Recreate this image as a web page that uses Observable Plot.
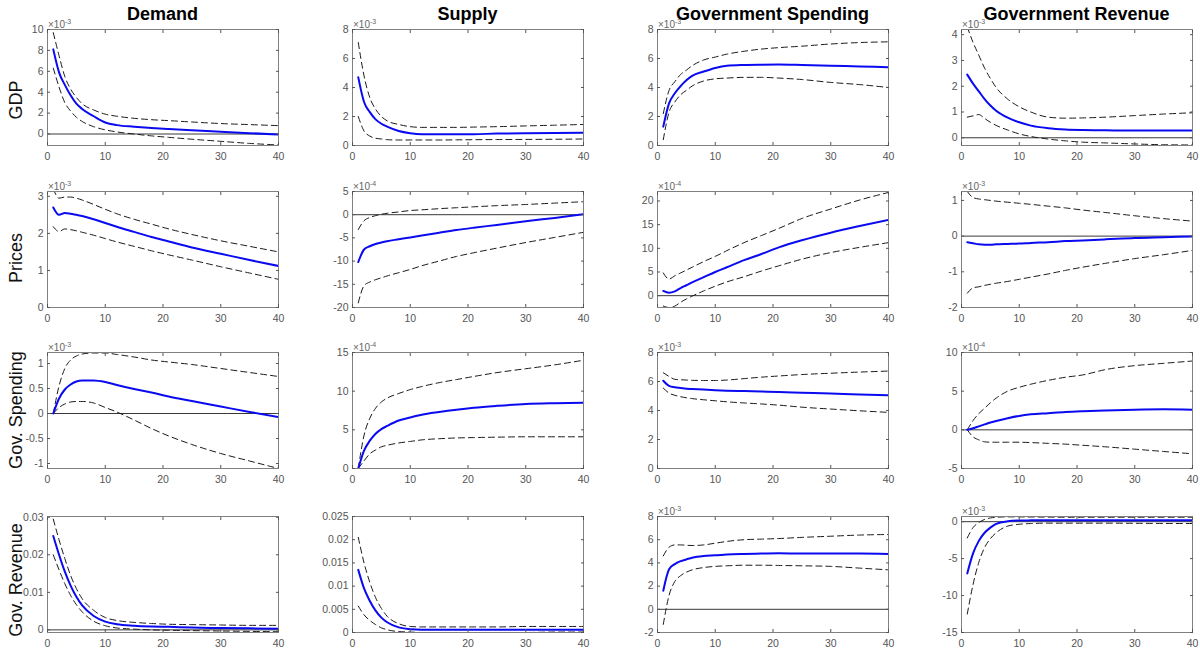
<!DOCTYPE html>
<html><head><meta charset="utf-8">
<script src="https://cdn.jsdelivr.net/npm/d3@7"></script>
<script src="https://cdn.jsdelivr.net/npm/@observablehq/plot@0.6"></script>
<style>
body{margin:0;background:#fff;}
#fig{position:relative;width:1200px;height:649px;font-family:"Liberation Sans",Arial,Helvetica,sans-serif;overflow:hidden;background:#fff}
.title{position:absolute;font-weight:bold;font-size:18px;color:#000;transform:translateX(-50%);white-space:nowrap;line-height:20px}
.rowlab{position:absolute;font-size:18px;color:#111;transform:translate(-50%,-50%) rotate(-90deg);white-space:nowrap;line-height:20px}
.expo{position:absolute;font-size:10px;color:#666;white-space:nowrap;line-height:12px}
.expo sup{font-size:7px;vertical-align:4px}
.panel{position:absolute}
</style></head><body><div id="fig"></div><script>
// horizons (quarters) at which values were read
const horizon = [1,2,3,4,5,6,8,10,12,15,18,21,25,30,35,40];
const xTicks = [0,10,20,30,40];
const colTitles = ["Demand","Supply","Government Spending","Government Revenue"];
const rowTitles = ["GDP","Prices","Gov. Spending","Gov. Revenue"];

// Row 1: GDP
const gdp_demand_irf = [8.1,5.9,4.7,3.7,2.9,2.4,1.7,1.1,0.85,0.7,0.58,0.48,0.36,0.22,0.08,-0.05];
const gdp_demand_hi  = [9.7,7.5,5.5,4.3,3.5,2.9,2.3,1.9,1.7,1.5,1.37,1.28,1.15,1.0,0.9,0.8];
const gdp_demand_lo  = [6.3,4.5,3.0,2.2,1.6,1.2,0.7,0.4,0.2,0.0,-0.18,-0.32,-0.5,-0.7,-0.9,-1.05];
const gdp_supply_irf = [4.7,3.0,2.3,1.8,1.5,1.3,1.0,0.85,0.78,0.77,0.77,0.78,0.82,0.85,0.87,0.88];
const gdp_supply_hi  = [7.1,4.8,3.3,2.5,2.0,1.7,1.45,1.3,1.25,1.25,1.25,1.27,1.3,1.35,1.4,1.45];
const gdp_supply_lo  = [2.0,1.0,0.65,0.5,0.45,0.4,0.38,0.38,0.38,0.38,0.39,0.4,0.41,0.42,0.43,0.45];
const gdp_spend_irf  = [1.3,2.9,3.6,4.1,4.5,4.8,5.1,5.35,5.5,5.55,5.57,5.58,5.55,5.5,5.45,5.4];
const gdp_spend_hi   = [2.2,3.8,4.4,4.9,5.2,5.5,5.9,6.1,6.3,6.5,6.65,6.75,6.85,7.0,7.1,7.15];
const gdp_spend_lo   = [0.4,2.3,3.0,3.5,3.8,4.1,4.45,4.6,4.65,4.7,4.7,4.65,4.55,4.35,4.2,4.0];
const gdp_rev_irf    = [2.45,2.1,1.8,1.5,1.25,1.05,0.78,0.6,0.47,0.37,0.32,0.3,0.29,0.28,0.28,0.28];
const gdp_rev_hi     = [4.3,3.7,3.2,2.7,2.3,1.95,1.5,1.2,1.0,0.8,0.76,0.77,0.8,0.86,0.92,0.97];
const gdp_rev_lo     = [0.8,0.85,0.9,0.75,0.6,0.48,0.3,0.15,0.05,-0.05,-0.12,-0.17,-0.2,-0.24,-0.27,-0.28];

// Row 2: Prices
const prices_demand_irf = [2.7,2.5,2.55,2.53,2.5,2.47,2.38,2.28,2.18,2.04,1.9,1.78,1.62,1.45,1.28,1.12];
const prices_demand_hi  = [3.2,2.95,2.98,2.98,2.95,2.9,2.78,2.65,2.53,2.38,2.25,2.12,1.97,1.8,1.65,1.5];
const prices_demand_lo  = [2.18,2.05,2.12,2.1,2.07,2.03,1.95,1.86,1.77,1.65,1.53,1.42,1.28,1.1,0.93,0.76];
const prices_supply_irf = [-10.2,-7.5,-6.8,-6.3,-6.0,-5.7,-5.3,-4.9,-4.5,-3.9,-3.3,-2.8,-2.2,-1.4,-0.7,0.1];
const prices_supply_hi  = [-3.2,-1.3,-0.6,-0.2,0.1,0.3,0.6,0.9,1.05,1.3,1.5,1.7,1.95,2.2,2.5,2.8];
const prices_supply_lo  = [-19,-15.3,-14.5,-14.0,-13.6,-13.2,-12.5,-11.8,-11,-10,-9,-8.2,-7.2,-6,-4.9,-3.8];
const prices_spend_irf  = [1.0,0.6,0.9,1.6,2.2,2.8,3.9,5.0,6.0,7.5,8.8,10.2,11.7,13.3,14.7,16.0];
const prices_spend_hi   = [4.8,3.5,4.2,4.8,5.4,6.0,7.2,8.3,9.5,11.2,12.7,14.2,16.3,18.3,20.2,21.8];
const prices_spend_lo   = [-2.2,-2.5,-2.2,-1.4,-0.7,-0.1,1.0,2.0,2.9,4.0,5.2,6.3,7.7,9.1,10.2,11.2];
const prices_rev_irf    = [-0.17,-0.2,-0.23,-0.24,-0.24,-0.23,-0.22,-0.21,-0.19,-0.17,-0.14,-0.12,-0.09,-0.05,-0.03,-0.01];
const prices_rev_hi     = [1.25,1.08,1.04,1.02,1.0,0.98,0.95,0.92,0.89,0.84,0.79,0.73,0.66,0.57,0.49,0.42];
const prices_rev_lo     = [-1.6,-1.45,-1.42,-1.38,-1.35,-1.32,-1.27,-1.21,-1.15,-1.06,-0.96,-0.87,-0.76,-0.63,-0.52,-0.4];

// Row 3: Gov. Spending
const spend_demand_irf = [0,0.3,0.48,0.58,0.64,0.66,0.66,0.63,0.57,0.49,0.42,0.34,0.25,0.14,0.03,-0.07];
const spend_demand_hi  = [0,0.55,0.9,1.07,1.15,1.19,1.21,1.21,1.18,1.13,1.07,1.03,0.98,0.9,0.82,0.74];
const spend_demand_lo  = [0,0.12,0.19,0.23,0.24,0.24,0.21,0.12,0.03,-0.13,-0.3,-0.45,-0.62,-0.8,-0.95,-1.1];
const spend_supply_irf = [0,2.3,3.6,4.5,5.1,5.5,6.2,6.6,6.95,7.3,7.6,7.85,8.1,8.35,8.45,8.5];
const spend_supply_hi  = [0,4.3,6.5,7.8,8.6,9.1,9.7,10.2,10.6,11.1,11.5,11.9,12.4,12.9,13.4,14.0];
const spend_supply_lo  = [0,1.0,1.9,2.4,2.8,3.0,3.3,3.5,3.7,3.85,3.95,4.0,4.05,4.1,4.1,4.1];
const spend_spend_irf  = [6.05,5.7,5.6,5.55,5.5,5.48,5.44,5.4,5.37,5.34,5.31,5.28,5.23,5.17,5.1,5.05];
const spend_spend_hi   = [6.6,6.35,6.15,6.12,6.1,6.08,6.07,6.07,6.1,6.2,6.3,6.38,6.48,6.57,6.65,6.72];
const spend_spend_lo   = [5.55,5.2,5.05,4.95,4.88,4.82,4.74,4.67,4.6,4.52,4.45,4.37,4.23,4.1,3.98,3.87];
const spend_rev_irf    = [0,0.2,0.45,0.7,0.95,1.15,1.5,1.8,2.0,2.15,2.3,2.4,2.5,2.6,2.65,2.6];
const spend_rev_hi     = [0,1.2,2.1,2.8,3.5,4.1,5.0,5.5,5.9,6.4,6.8,7.1,7.8,8.3,8.6,8.9];
const spend_rev_lo     = [0,-0.9,-1.3,-1.55,-1.6,-1.6,-1.6,-1.6,-1.65,-1.75,-1.85,-2.0,-2.2,-2.5,-2.8,-3.1];

// Row 4: Gov. Revenue
const rev_demand_irf = [0.025,0.02,0.0155,0.0118,0.0088,0.0065,0.0037,0.0022,0.0015,0.0011,0.0009,0.0008,0.0006,0.0005,0.0004,0.0003];
const rev_demand_hi  = [0.0295,0.024,0.019,0.0145,0.011,0.0083,0.0052,0.0033,0.0025,0.002,0.0017,0.0015,0.0014,0.0013,0.0012,0.0012];
const rev_demand_lo  = [0.02,0.016,0.0123,0.0092,0.0067,0.0048,0.0023,0.0011,0.0005,0.0002,0.0,-0.0001,-0.0002,-0.0003,-0.0004,-0.0005];
const rev_supply_irf = [0.0135,0.0095,0.0068,0.0047,0.0032,0.0022,0.0011,0.0007,0.0006,0.0006,0.0006,0.0006,0.0006,0.0006,0.0006,0.0006];
const rev_supply_hi  = [0.0205,0.015,0.0108,0.0075,0.0052,0.0035,0.0019,0.0013,0.0012,0.0012,0.0012,0.0012,0.0012,0.0013,0.0013,0.0013];
const rev_supply_lo  = [0.0057,0.0038,0.0026,0.0017,0.001,0.0006,0.0002,0.0001,0.0,0.0,0.0,0.0,0.0,0.0,0.0001,0.0001];
const rev_spend_irf  = [1.6,3.45,3.9,4.15,4.3,4.45,4.6,4.65,4.72,4.77,4.8,4.83,4.8,4.8,4.8,4.77];
const rev_spend_hi   = [4.6,5.35,5.55,5.55,5.52,5.5,5.55,5.7,5.85,6.0,6.05,6.1,6.2,6.3,6.4,6.45];
const rev_spend_lo   = [-1.3,1.2,2.4,2.9,3.2,3.4,3.6,3.7,3.75,3.8,3.8,3.78,3.75,3.7,3.55,3.4];
const rev_rev_irf    = [-7.0,-4.3,-2.6,-1.5,-0.8,-0.3,0.05,0.15,0.18,0.2,0.2,0.2,0.2,0.2,0.2,0.2];
const rev_rev_hi     = [-2.2,-0.8,-0.1,0.3,0.5,0.6,0.65,0.65,0.63,0.62,0.6,0.6,0.6,0.6,0.6,0.6];
const rev_rev_lo     = [-12.5,-8.5,-5.5,-3.5,-2.3,-1.5,-0.6,-0.35,-0.25,-0.2,-0.2,-0.2,-0.2,-0.22,-0.24,-0.25];

// y-axis domains, ticks and exponent labels per panel (row-major)
const yDomains = [
  [-1.1,10],[0,8],[0,8],[-0.3,4.2],
  [0,3.13],[-20,5],[-2.5,22],[-2,1.25],
  [-1.1,1.22],[0,15],[0,8],[-5,10],
  [-0.0007,0.0302],[0,0.025],[-2,8],[-15,0.7]
];
const yTicks = [
  [0,2,4,6,8,10],[0,2,4,6,8],[0,2,4,6,8],[0,1,2,3,4],
  [0,1,2,3],[-20,-15,-10,-5,0,5],[0,5,10,15,20],[-2,-1,0,1],
  [-1,-0.5,0,0.5,1],[0,5,10,15],[0,2,4,6,8],[-5,0,5,10],
  [0,0.01,0.02,0.03],[0,0.005,0.01,0.015,0.02,0.025],[-2,0,2,4,6,8],[-15,-10,-5,0]
];
const exponents = [
  "-3","-3","-3","-3",
  "-3","-4","-4","-3",
  "-3","-4","-3","-4",
  null,null,"-3","-3"
];
const series = [
  [gdp_demand_irf,gdp_demand_hi,gdp_demand_lo],[gdp_supply_irf,gdp_supply_hi,gdp_supply_lo],[gdp_spend_irf,gdp_spend_hi,gdp_spend_lo],[gdp_rev_irf,gdp_rev_hi,gdp_rev_lo],
  [prices_demand_irf,prices_demand_hi,prices_demand_lo],[prices_supply_irf,prices_supply_hi,prices_supply_lo],[prices_spend_irf,prices_spend_hi,prices_spend_lo],[prices_rev_irf,prices_rev_hi,prices_rev_lo],
  [spend_demand_irf,spend_demand_hi,spend_demand_lo],[spend_supply_irf,spend_supply_hi,spend_supply_lo],[spend_spend_irf,spend_spend_hi,spend_spend_lo],[spend_rev_irf,spend_rev_hi,spend_rev_lo],
  [rev_demand_irf,rev_demand_hi,rev_demand_lo],[rev_supply_irf,rev_supply_hi,rev_supply_lo],[rev_spend_irf,rev_spend_hi,rev_spend_lo],[rev_rev_irf,rev_rev_hi,rev_rev_lo]
];

// layout
const boxLefts = [47,352,657,961];
const boxTops = [29,191,352,516];
const boxW = 231, boxH = 116;
const ML = 42, MR = 6, MT = 14, MB = 24;
const rowLabelY = [100,258,410,580];

const fig = document.getElementById("fig");

colTitles.forEach((t,c)=>{
  const d = document.createElement("div");
  d.className="title"; d.textContent=t;
  d.style.left=(boxLefts[c]+boxW/2)+"px"; d.style.top="4px";
  fig.appendChild(d);
});
rowTitles.forEach((t,r)=>{
  const d = document.createElement("div");
  d.className="rowlab"; d.textContent=t;
  d.style.left="16px"; d.style.top=rowLabelY[r]+"px";
  fig.appendChild(d);
});

for (let r=0;r<4;r++) for (let c=0;c<4;c++){
  const k = r*4+c;
  const [irf,hi,lo] = series[k];
  const data = horizon.map((h,i)=>({h, irf:irf[i], hi:hi[i], lo:lo[i]}));
  const dash = {x:"h", stroke:"#1a1a1a", strokeWidth:1, strokeDasharray:"6,4", curve:"monotone-x", clip:true};
  const svg = Plot.plot({
    width: boxW+ML+MR, height: boxH+MT+MB,
    marginLeft: ML, marginRight: MR, marginTop: MT, marginBottom: MB,
    style: {fontFamily:"'Liberation Sans', Arial, Helvetica, sans-serif", fontSize:"10.5px", color:"#555", background:"transparent", overflow:"visible"},
    x: {domain:[0,40]},
    y: {domain: yDomains[k]},
    marks: [
      Plot.ruleY([0], {stroke:"#222", strokeWidth:0.9, clip:true}),
      Plot.lineY(data, {...dash, y:"hi"}),
      Plot.lineY(data, {...dash, y:"lo"}),
      Plot.lineY(data, {x:"h", y:"irf", stroke:"#0a0af0", strokeWidth:2, curve:"monotone-x", clip:true}),
      Plot.frame({stroke:"#808080"}),
      Plot.axisX({ticks:xTicks, tickSize:-3, tickPadding:10, tickFormat:d=>String(d), label:null}),
      Plot.axisX({anchor:"top", ticks:xTicks, tickSize:-3, tickFormat:()=>"", label:null}),
      Plot.axisY({ticks:yTicks[k], tickSize:-3, tickPadding:7, tickFormat:d=>String(d), label:null}),
      Plot.axisY({anchor:"right", ticks:yTicks[k], tickSize:-3, tickFormat:()=>"", label:null})
    ]
  });
  svg.classList.add("panel");
  svg.style.left=(boxLefts[c]-ML)+"px";
  svg.style.top=(boxTops[r]-MT)+"px";
  fig.appendChild(svg);
  if (exponents[k]){
    const e = document.createElement("div");
    e.className="expo";
    e.innerHTML = "\u00d710<sup>"+exponents[k]+"</sup>";
    e.style.left=(boxLefts[c]+1)+"px";
    e.style.top=(boxTops[r]-13)+"px";
    fig.appendChild(e);
  }
}
</script></body></html>
